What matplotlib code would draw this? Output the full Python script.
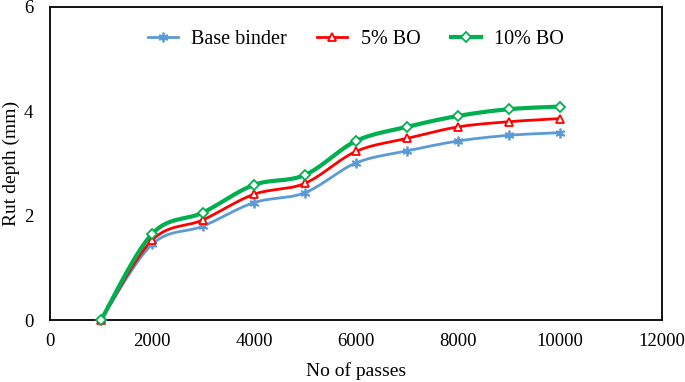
import numpy as np
import matplotlib.pyplot as plt

plt.rcParams['font.family'] = ['Liberation Serif', 'DejaVu Serif']

passes = [1000, 2000, 3000, 4000, 5000, 6000, 7000, 8000, 9000, 10000]
base_binder = [0.0, 1.45, 1.80, 2.25, 2.44, 3.01, 3.24, 3.43, 3.54, 3.59]
bo_5 = [0.0, 1.53, 1.92, 2.41, 2.62, 3.23, 3.48, 3.70, 3.80, 3.86]
bo_10 = [0.0, 1.65, 2.06, 2.59, 2.78, 3.43, 3.70, 3.91, 4.04, 4.09]


def smooth(x, y, n=30):
    # Catmull-Rom, like Excel's smoothed line (end points repeated)
    px = np.concatenate([[x[0]], x, [x[-1]]]).astype(float)
    py = np.concatenate([[y[0]], y, [y[-1]]]).astype(float)
    xs, ys = [], []
    t = np.linspace(0, 1, n)
    for i in range(1, len(px) - 2):
        for p, out in ((px, xs), (py, ys)):
            p0, p1, p2, p3 = p[i - 1], p[i], p[i + 1], p[i + 2]
            out.extend(0.5 * (2 * p1 + (-p0 + p2) * t
                              + (2 * p0 - 5 * p1 + 4 * p2 - p3) * t ** 2
                              + (-p0 + 3 * p1 - 3 * p2 + p3) * t ** 3))
    return xs, ys


fig = plt.figure(figsize=(6.85, 3.82), dpi=100)
ax = fig.add_axes([0.073, 0.162, 0.893, 0.82])

series = [
    ("Base binder", base_binder, "#5B9BD5", (6, 2, 0), 2.0, 7, "#5B9BD5"),
    ("5% BO", bo_5, "#FF0000", "^", 2.0, 6, "white"),
    ("10% BO", bo_10, "#00B050", "D", 3.0, 5, "white"),
]
for label, vals, col, mk, lw, ms, fc in series:
    sx, sy = smooth(passes, vals)
    ax.plot(sx, sy, color=col, lw=lw, zorder=2)
    ax.plot(passes, vals, ls="none", marker=mk, ms=ms, mfc=fc, mec=col,
            mew=1.3, zorder=3, clip_on=False)
    ax.plot([], [], color=col, lw=lw, marker=mk, ms=ms, mfc=fc, mec=col,
            mew=1.3, label=label)

ax.set_xlim(0, 12000)
ax.set_ylim(0, 6)
ax.set_xticks(range(0, 12001, 2000))
ax.set_yticks([0, 2, 4, 6])
ax.tick_params(length=0, labelsize=13.5)
ax.tick_params(axis="x", pad=9)
ax.tick_params(axis="y", pad=12)
for s in ax.spines.values():
    s.set_linewidth(1.3)
ax.set_xlabel("No of passes", fontsize=14, labelpad=9)
ax.set_ylabel("Rut depth (mm)", fontsize=14, labelpad=3)
ax.legend(loc="upper center", bbox_to_anchor=(0.5, 0.985), ncol=3, frameon=False,
          fontsize=14.5, handlelength=1.5, columnspacing=1.5, handletextpad=0.65)

fig.savefig("out.png", dpi=100)
